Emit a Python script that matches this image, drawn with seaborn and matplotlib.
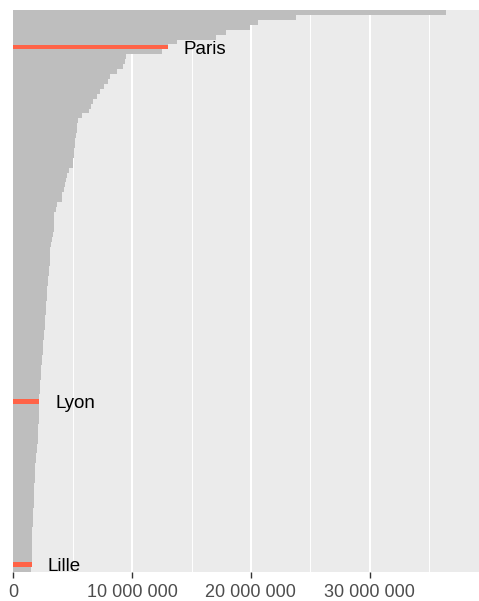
import numpy as np
import pandas as pd
import matplotlib
matplotlib.use("Agg")
import matplotlib.pyplot as plt
from matplotlib.ticker import FuncFormatter, MultipleLocator
import seaborn as sns

# Population of urban areas, millions, sorted from largest
population_m = [
    36.4, 23.8, 20.6, 19.9, 17.9, 17.1, 13.8, 13.0, 12.5, 9.49,
    9.41, 9.21, 8.71, 8.15, 7.95, 7.61, 7.30, 7.02, 6.69, 6.52,
    6.35, 5.76, 5.42, 5.39, 5.34, 5.28, 5.20, 5.19, 5.11, 5.10,
    5.03, 5.02, 4.69, 4.55, 4.44, 4.36, 4.24, 4.13, 4.08, 3.71,
    3.60, 3.46, 3.45, 3.43, 3.42, 3.34, 3.26, 3.18, 3.09, 3.09,
    3.08, 3.08, 3.01, 3.00, 2.92, 2.91, 2.84, 2.83, 2.83, 2.75,
    2.74, 2.74, 2.67, 2.66, 2.66, 2.59, 2.58, 2.47, 2.47, 2.46,
    2.39, 2.38, 2.31, 2.31, 2.30, 2.25, 2.24, 2.24, 2.17, 2.17,
    2.16, 2.16, 2.16, 2.15, 2.08, 2.08, 2.07, 2.07, 1.97, 1.96,
    1.88, 1.88, 1.80, 1.80, 1.79, 1.79, 1.72, 1.72, 1.71, 1.71,
    1.71, 1.70, 1.63, 1.63, 1.62, 1.55, 1.55, 1.55, 1.55, 1.55,
    1.54, 1.54, 1.54, 1.53,
]
# highlighted cities: rank -> name
highlight = {7: "Paris", 79: "Lyon", 112: "Lille"}

x_ticks = [0, 10_000_000, 20_000_000, 30_000_000]

df = pd.DataFrame({"pop": np.array(population_m) * 1e6})
df["rank"] = [f"r{i:03d}" for i in range(len(df))]
df["city"] = [highlight.get(i, "") for i in range(len(df))]
order = list(df["rank"])

sns.set_theme(style="white")
plt.rcParams["font.family"] = ["Liberation Sans", "DejaVu Sans"]

fig = plt.figure(figsize=(4.79, 6.01), dpi=100)
ax = fig.add_axes([13.3 / 479, 1 - 571.7 / 601, 1 - 13.3 / 479, (571.7 - 10) / 601])
ax.set_facecolor("#EBEBEB")

sns.barplot(data=df, x="pop", y="rank", order=order, color="#BEBEBE",
            width=1, saturation=1, linewidth=0, errorbar=None, ax=ax)

hl = df[df["city"] != ""]
sns.barplot(data=hl, x="pop", y="rank", order=order, color="#FF6347",
            width=0.9, saturation=1, linewidth=0, errorbar=None, ax=ax)

for _, row in hl.iterrows():
    ax.annotate(row["city"], xy=(row["pop"], order.index(row["rank"])),
                xytext=(11.5, -1.5), textcoords="offset points",
                ha="left", va="center", fontsize=13.5, color="black")

ax.set_xlim(0, 39.2e6)
ax.set_ylim(len(df) - 0.5, -0.5)
ax.set_xticks(x_ticks)
ax.xaxis.set_minor_locator(MultipleLocator(5_000_000))
ax.xaxis.set_major_formatter(FuncFormatter(lambda v, p: f"{v:,.0f}".replace(",", " ")))
ax.set_axisbelow(True)
ax.grid(which="major", axis="x", color="white", linewidth=1.45)
ax.grid(which="minor", axis="x", color="white", linewidth=0.7)
ax.grid(which="major", axis="y", visible=False)
ax.set_yticks([])
ax.set_xlabel("")
ax.set_ylabel("")
ax.tick_params(axis="x", which="major", length=4, width=1, color="#333333",
               labelsize=13, labelcolor="#4D4D4D", pad=4.5, bottom=True)
ax.tick_params(axis="x", which="minor", length=0)
for s in ax.spines.values():
    s.set_visible(False)

fig.savefig("out.png", dpi=100)
